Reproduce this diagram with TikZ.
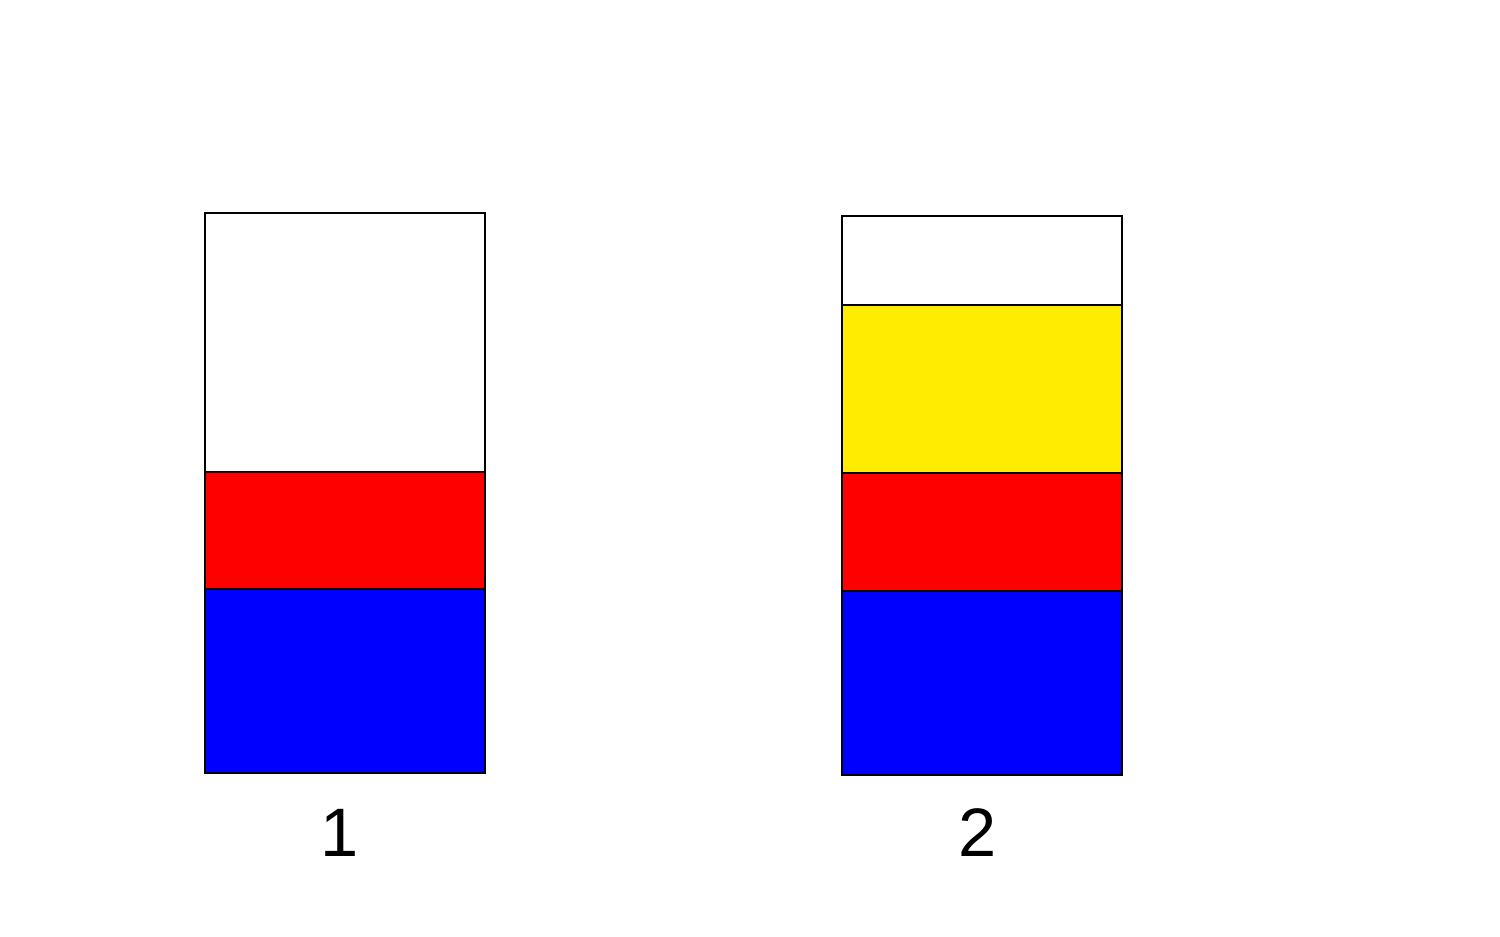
\documentclass[tikz,border=0pt]{standalone}
\usepackage{fontspec}
\setmainfont{Liberation Sans}
\definecolor{lyellow}{RGB}{255,236,0}
\begin{document}
\begin{tikzpicture}[x=0.01cm,y=-0.01cm,line width=0.6pt]
  \useasboundingbox (0,0) rectangle (1500,937);
  % column 1
  \draw[fill=white] (205,213) rectangle (485,472);
  \draw[fill=red] (205,472) rectangle (485,589);
  \draw[fill=blue] (205,589) rectangle (485,773);
  \node[font=\fontsize{19.5}{23}\selectfont] (l1) at (340,833) {1};
  % column 2
  \draw[fill=white] (842,216) rectangle (1122,305);
  \draw[fill=lyellow] (842,305) rectangle (1122,473);
  \draw[fill=red] (842,473) rectangle (1122,591);
  \draw[fill=blue] (842,591) rectangle (1122,775);
  \node[font=\fontsize{19.5}{23}\selectfont] (l2) at (978,833) {2};
\end{tikzpicture}
\end{document}
